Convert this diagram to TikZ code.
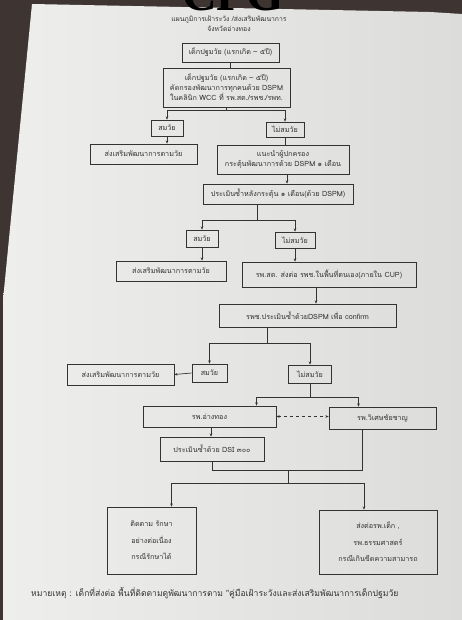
\documentclass[tikz,border=0pt]{standalone}
\usepackage{fontspec}
\newfontfamily\thai[Script=Thai]{Loma}
\newfontfamily\cpgfont{Liberation Serif}
\usetikzlibrary{arrows.meta,calc}
\definecolor{ink}{HTML}{333333}
\definecolor{paperL}{HTML}{EEEEEC}
\definecolor{paperR}{HTML}{DCDCDA}
\definecolor{backdrop}{HTML}{3E3533}
\tikzset{
  bx/.style={draw=ink,line width=0.7pt,inner sep=0pt,align=center,font=\thai\fontsize{7.2}{10}\selectfont,text=ink},
  arr/.style={draw=ink,line width=0.7pt,-{Stealth[length=3.2pt,width=2.6pt]}},
  ln/.style={draw=ink,line width=0.7pt},
  dbl/.style={draw=ink,line width=0.7pt,dashed,{Stealth[length=3.2pt,width=2.6pt]}-{Stealth[length=3.2pt,width=2.6pt]}},
  txt/.style={inner sep=0pt,text=ink,font=\thai\fontsize{7.2}{10}\selectfont}
}
\begin{document}
\begin{tikzpicture}[x=1pt,y=-1pt]
\useasboundingbox (0,0) rectangle (462,620);
\fill[backdrop] (0,0) rectangle (462,620);
\shade[left color=paperL,right color=paperR] (32,4) -- (430,12) -- (462,14) -- (462,620) -- (3,620) -- (3,300) -- cycle;
\begin{scope}
\clip (0,0) rectangle (462,620);
\node[anchor=base,inner sep=0pt,text depth=0pt,font=\cpgfont\fontsize{48}{48}\selectfont\bfseries] (cpg) at (233,10.5) {CPG};
\end{scope}
\node[txt,font=\thai\fontsize{6.8}{8}\selectfont] (t1) at (229,19.5) {แผนภูมิการเฝ้าระวัง /ส่งเสริมพัฒนาการ};
\node[txt,font=\thai\fontsize{6.8}{8}\selectfont] (t2) at (229,28.5) {จังหวัดอ่างทอง};

\node[bx,minimum width=97pt,minimum height=19pt] (b1) at (230.5,52.5) {เด็กปฐมวัย (แรกเกิด – ๕ปี)};
\node[bx,minimum width=127pt,minimum height=39pt] (b2) at (226.5,87.5) {เด็กปฐมวัย (แรกเกิด – ๕ปี)\\คัดกรองพัฒนาการทุกคนด้วย DSPM\\ในคลินิก WCC ที่ รพ.สต./รพช./รพท.};
\node[bx,minimum width=32pt,minimum height=16pt] (s1) at (167,128) {สมวัย};
\node[bx,minimum width=38pt,minimum height=15pt] (n1) at (285,129.5) {ไม่สมวัย};
\node[bx,minimum width=107pt,minimum height=20pt] (p1) at (143.5,154) {ส่งเสริมพัฒนาการตามวัย};
\node[bx,minimum width=132pt,minimum height=29pt] (g1) at (283,159.5) {แนะนำผู้ปกครอง\\กระตุ้นพัฒนาการด้วย DSPM ๑ เดือน};
\node[bx,minimum width=150pt,minimum height=20pt] (r1) at (278,194) {ประเมินซ้ำหลังกระตุ้น ๑ เดือน(ด้วย DSPM)};
\node[bx,minimum width=32pt,minimum height=17pt] (s2) at (202,238.5) {สมวัย};
\node[bx,minimum width=40pt,minimum height=16pt] (n2) at (295,240) {ไม่สมวัย};
\node[bx,minimum width=110pt,minimum height=20pt] (p2) at (171,271) {ส่งเสริมพัฒนาการตามวัย};
\node[bx,minimum width=174pt,minimum height=25pt] (h1) at (329,274.5) {รพ.สต. ส่งต่อ รพช.ในพื้นที่ตนเอง(ภายใน CUP)};
\node[bx,minimum width=177pt,minimum height=23pt] (c1) at (307.5,315.5) {รพช.ประเมินซ้ำด้วยDSPM เพื่อ confirm};
\node[bx,minimum width=35pt,minimum height=18pt] (s3) at (209.5,373) {สมวัย};
\node[bx,minimum width=43pt,minimum height=18pt] (n3) at (310,374) {ไม่สมวัย};
\node[bx,minimum width=107pt,minimum height=21pt] (p3) at (120.5,374.5) {ส่งเสริมพัฒนาการตามวัย};
\node[bx,minimum width=133pt,minimum height=21pt] (a1) at (209.5,416.5) {รพ.อ่างทอง};
\node[bx,minimum width=107pt,minimum height=22pt] (v1) at (382.5,418) {รพ.วิเศษชัยชาญ};
\node[bx,minimum width=104pt,minimum height=24pt] (d1) at (212,449) {ประเมินซ้ำด้วย DSI ๓๐๐};
\node[bx,minimum width=89pt,minimum height=67pt,font=\thai\fontsize{7.2}{16.5}\selectfont] (f1) at (151.5,540.5) {ติดตาม รักษา\\อย่างต่อเนื่อง\\กรณีรักษาได้};
\node[bx,minimum width=118pt,minimum height=64pt,font=\thai\fontsize{7.2}{16.5}\selectfont] (f2) at (378,542) {ส่งต่อรพ.เด็ก ,\\รพ.ธรรมศาสตร์\\กรณีเกินขีดความสามารถ};
\node[txt,anchor=west,font=\thai\fontsize{8.6}{10}\selectfont] (note) at (31,593) {หมายเหตุ : เด็กที่ส่งต่อ พื้นที่ติดตามดูพัฒนาการตาม "คู่มือเฝ้าระวังและส่งเสริมพัฒนาการเด็กปฐมวัย};

% helper points on box edges
\coordinate (gx) at ($(g1.south)+(4,0)$);
\coordinate (rx) at ($(r1.south)+(-21,0)$);
\coordinate (hx) at ($(h1.south)+(-13,0)$);
\coordinate (cx) at ($(c1.south)+(-40,0)$);
\coordinate (ax) at ($(a1.south)+(1.5,0)$);
\coordinate (an) at ($(a1.north)+(47,0)$);
\coordinate (vn) at ($(v1.north)+(-24,0)$);
\coordinate (vs) at ($(v1.south)+(-20,0)$);
\coordinate (fa) at ($(f1.north)+(20,0)$);
\coordinate (fb) at ($(f2.north)+(-14,0)$);
\coordinate (j) at (288,470);

% connectors
\draw[ln] (b1.south) -- (b1.south |- b2.north);
\draw[arr] (b2.south) -- ++(0,3) -| (s1.north);
\draw[arr] (b2.south) -- ++(0,3) -| (n1.north);
\draw[arr] (s1.south) -- (s1.south |- p1.north);
\draw[ln] (n1.south) -- (n1.south |- g1.north);
\draw[arr] (gx) -- (gx |- r1.north);
\draw[arr] (rx) -- ++(0,16) -| (s2.north);
\draw[arr] (rx) -- ++(0,16) -| (n2.north);
\draw[arr] (s2.south) -- (s2.south |- p2.north);
\draw[arr] (n2.south) -- (n2.south |- h1.north);
\draw[arr] (hx) -- (hx |- c1.north);
\draw[arr] (cx) -- ++(0,16) -| (s3.north);
\draw[arr] (cx) -- ++(0,16) -| (n3.north);
\draw[arr] (s3.west) -- (p3.east);
\draw[arr] (n3.south) -- ++(0,14) -| (an);
\draw[arr] (n3.south) -- ++(0,14) -| (vn);
\draw[dbl] (a1.east) -- (a1.east -| v1.west);
\draw[arr] (ax) -- (ax |- d1.north);
\draw[ln] (d1.south) -- ++(0,9) -| (vs);
\draw[arr] (j) -- ++(0,13) -| (fa);
\draw[arr] (j) -- ++(0,13) -| (fb);
\end{tikzpicture}
\end{document}
